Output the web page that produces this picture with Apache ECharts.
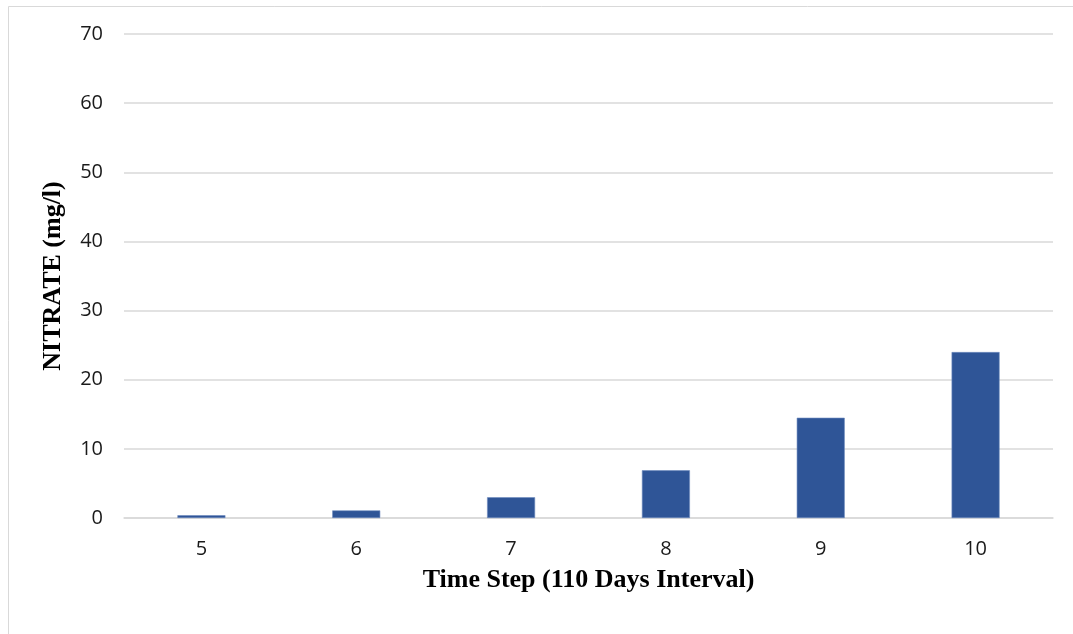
<!DOCTYPE html>
<html>
<head>
<meta charset="utf-8">
<script src="https://cdn.jsdelivr.net/npm/echarts@6/dist/echarts.min.js"></script>
<style>
  html, body { margin: 0; padding: 0; background: #ffffff; }
  #chart { width: 1073px; height: 634px; }
</style>
</head>
<body>
<div id="chart"></div>
<script>
// Time steps (110-day intervals) and nitrate concentration in mg/l
const timeSteps = ['5', '6', '7', '8', '9', '10'];
const nitrate = [0.4, 1.1, 3.0, 6.9, 14.5, 24.0];
const yTicks = { min: 0, max: 70, interval: 10 };

const chart = echarts.init(document.getElementById('chart'), null, { renderer: 'canvas' });

chart.setOption({
  animation: false,
  backgroundColor: '#ffffff',
  graphic: [{
    type: 'rect',
    left: 6,
    top: 4,
    shape: { width: 1100, height: 700 },
    style: { fill: 'none', stroke: '#d9d9d9', lineWidth: 1 },
    z: -1
  }],
  grid: { left: 124, right: 20, top: 34, bottom: 116, containLabel: false },
  xAxis: {
    type: 'category',
    data: timeSteps,
    name: 'Time Step (110 Days Interval)',
    nameLocation: 'middle',
    nameGap: 49,
    nameTextStyle: {
      fontFamily: 'Liberation Serif',
      fontWeight: 'bold',
      fontSize: 26,
      color: '#000000'
    },
    axisLine: { show: true, lineStyle: { color: '#d9d9d9', width: 1.5 } },
    axisTick: { show: false },
    axisLabel: {
      margin: 21,
      fontFamily: 'Open Sans',
      fontSize: 20,
      color: '#1a1a1a'
    }
  },
  yAxis: {
    type: 'value',
    min: yTicks.min,
    max: yTicks.max,
    interval: yTicks.interval,
    name: 'NITRATE (mg/l)',
    nameLocation: 'middle',
    nameGap: 58,
    nameRotate: 90,
    nameTextStyle: {
      fontFamily: 'Liberation Serif',
      fontWeight: 'bold',
      fontSize: 26,
      color: '#000000'
    },
    axisLine: { show: false },
    axisTick: { show: false },
    axisLabel: {
      margin: 21,
      fontFamily: 'Open Sans',
      fontSize: 20,
      color: '#1a1a1a'
    },
    splitLine: { show: true, lineStyle: { color: '#d9d9d9', width: 1.5 } }
  },
  series: [{
    type: 'bar',
    data: nitrate,
    barCategoryGap: '69%',
    itemStyle: { color: '#2f5597', borderColor: '#6f8cc0', borderWidth: 0.6 }
  }]
});
</script>
</body>
</html>
